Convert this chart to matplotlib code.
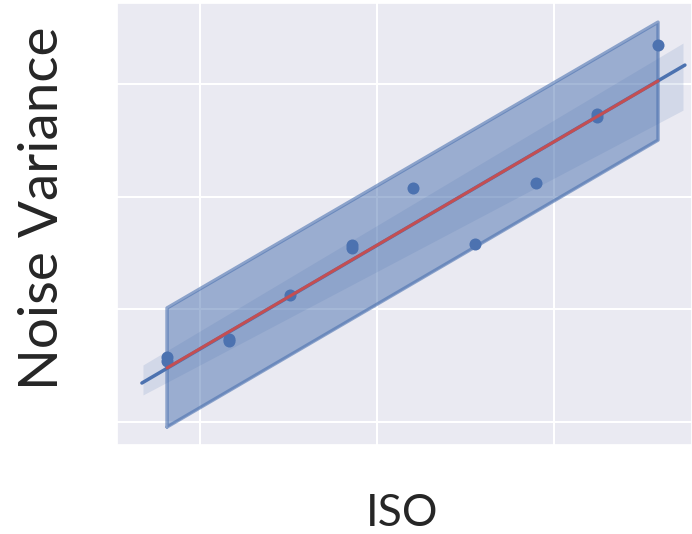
import numpy as np
import matplotlib
matplotlib.use("Agg")
import matplotlib.pyplot as plt
import seaborn as sns

# measured points (ISO vs noise variance, arbitrary units)
iso = [0.814, 0.814, 1.164, 1.164, 1.508, 1.859, 1.859, 2.203, 2.554, 2.898, 3.243, 3.243, 3.588]
noise_var = [0.578, 0.543, 0.737, 0.715, 1.127, 1.571, 1.543, 2.076, 1.579, 2.121, 2.735, 2.703, 3.345]

# fitted line (ends) and bands
fit_x = [0.672, 3.740]
fit_y = [0.346, 3.168]
red_x = [0.814, 3.588]
red_y = [0.480, 3.027]
ci_x = [0.678, 3.729]
ci_lo = [0.240, 2.768]
ci_hi = [0.506, 3.363]
pi_x = [0.814, 3.588]
pi_lo = [-0.044, 2.502]
pi_hi = [1.012, 3.549]

sns.set_theme(style="darkgrid")
plt.rcParams['font.family'] = ['Lato', 'DejaVu Sans']

blue = "#4C72B0"
red = "#C44E52"

fig = plt.figure(figsize=(6.92, 5.34), dpi=100)
ax = fig.add_axes([0.169, 0.1667, 0.831, 0.8277])

# prediction band
ax.fill_between(pi_x, pi_lo, pi_hi, color=blue, alpha=0.5, lw=0, zorder=2)
px = [pi_x[0], pi_x[1], pi_x[1], pi_x[0], pi_x[0]]
py = [pi_lo[0], pi_lo[1], pi_hi[1], pi_hi[0], pi_lo[0]]
ax.plot(px, py, color=blue, alpha=0.6, lw=2.5, zorder=3)

# confidence band
ax.fill_between(ci_x, ci_lo, ci_hi, color=blue, alpha=0.15, lw=0, zorder=3)

ax.plot(fit_x, fit_y, color=blue, lw=2.5, solid_capstyle="round", zorder=4)
ax.scatter(iso, noise_var, s=75, color=blue, lw=0, zorder=5)
ax.plot(red_x, red_y, color=red, lw=2.2, zorder=6)

ax.set_xlim(0.531, 3.780)
ax.set_ylim(-0.204, 3.719)
ax.set_xticks([1, 2, 3])
ax.set_yticks([0, 1, 2, 3])
ax.set_xticklabels([])
ax.set_yticklabels([])
ax.grid(True, color="white", lw=1.5)

fig.text(0.5817, 0.039, "ISO", fontsize=32, ha="center", va="center")
fig.text(0.0607, 0.6105, "Noise Variance", fontsize=39.5, rotation=90,
         ha="center", va="center")

fig.savefig("out.png", dpi=100)
